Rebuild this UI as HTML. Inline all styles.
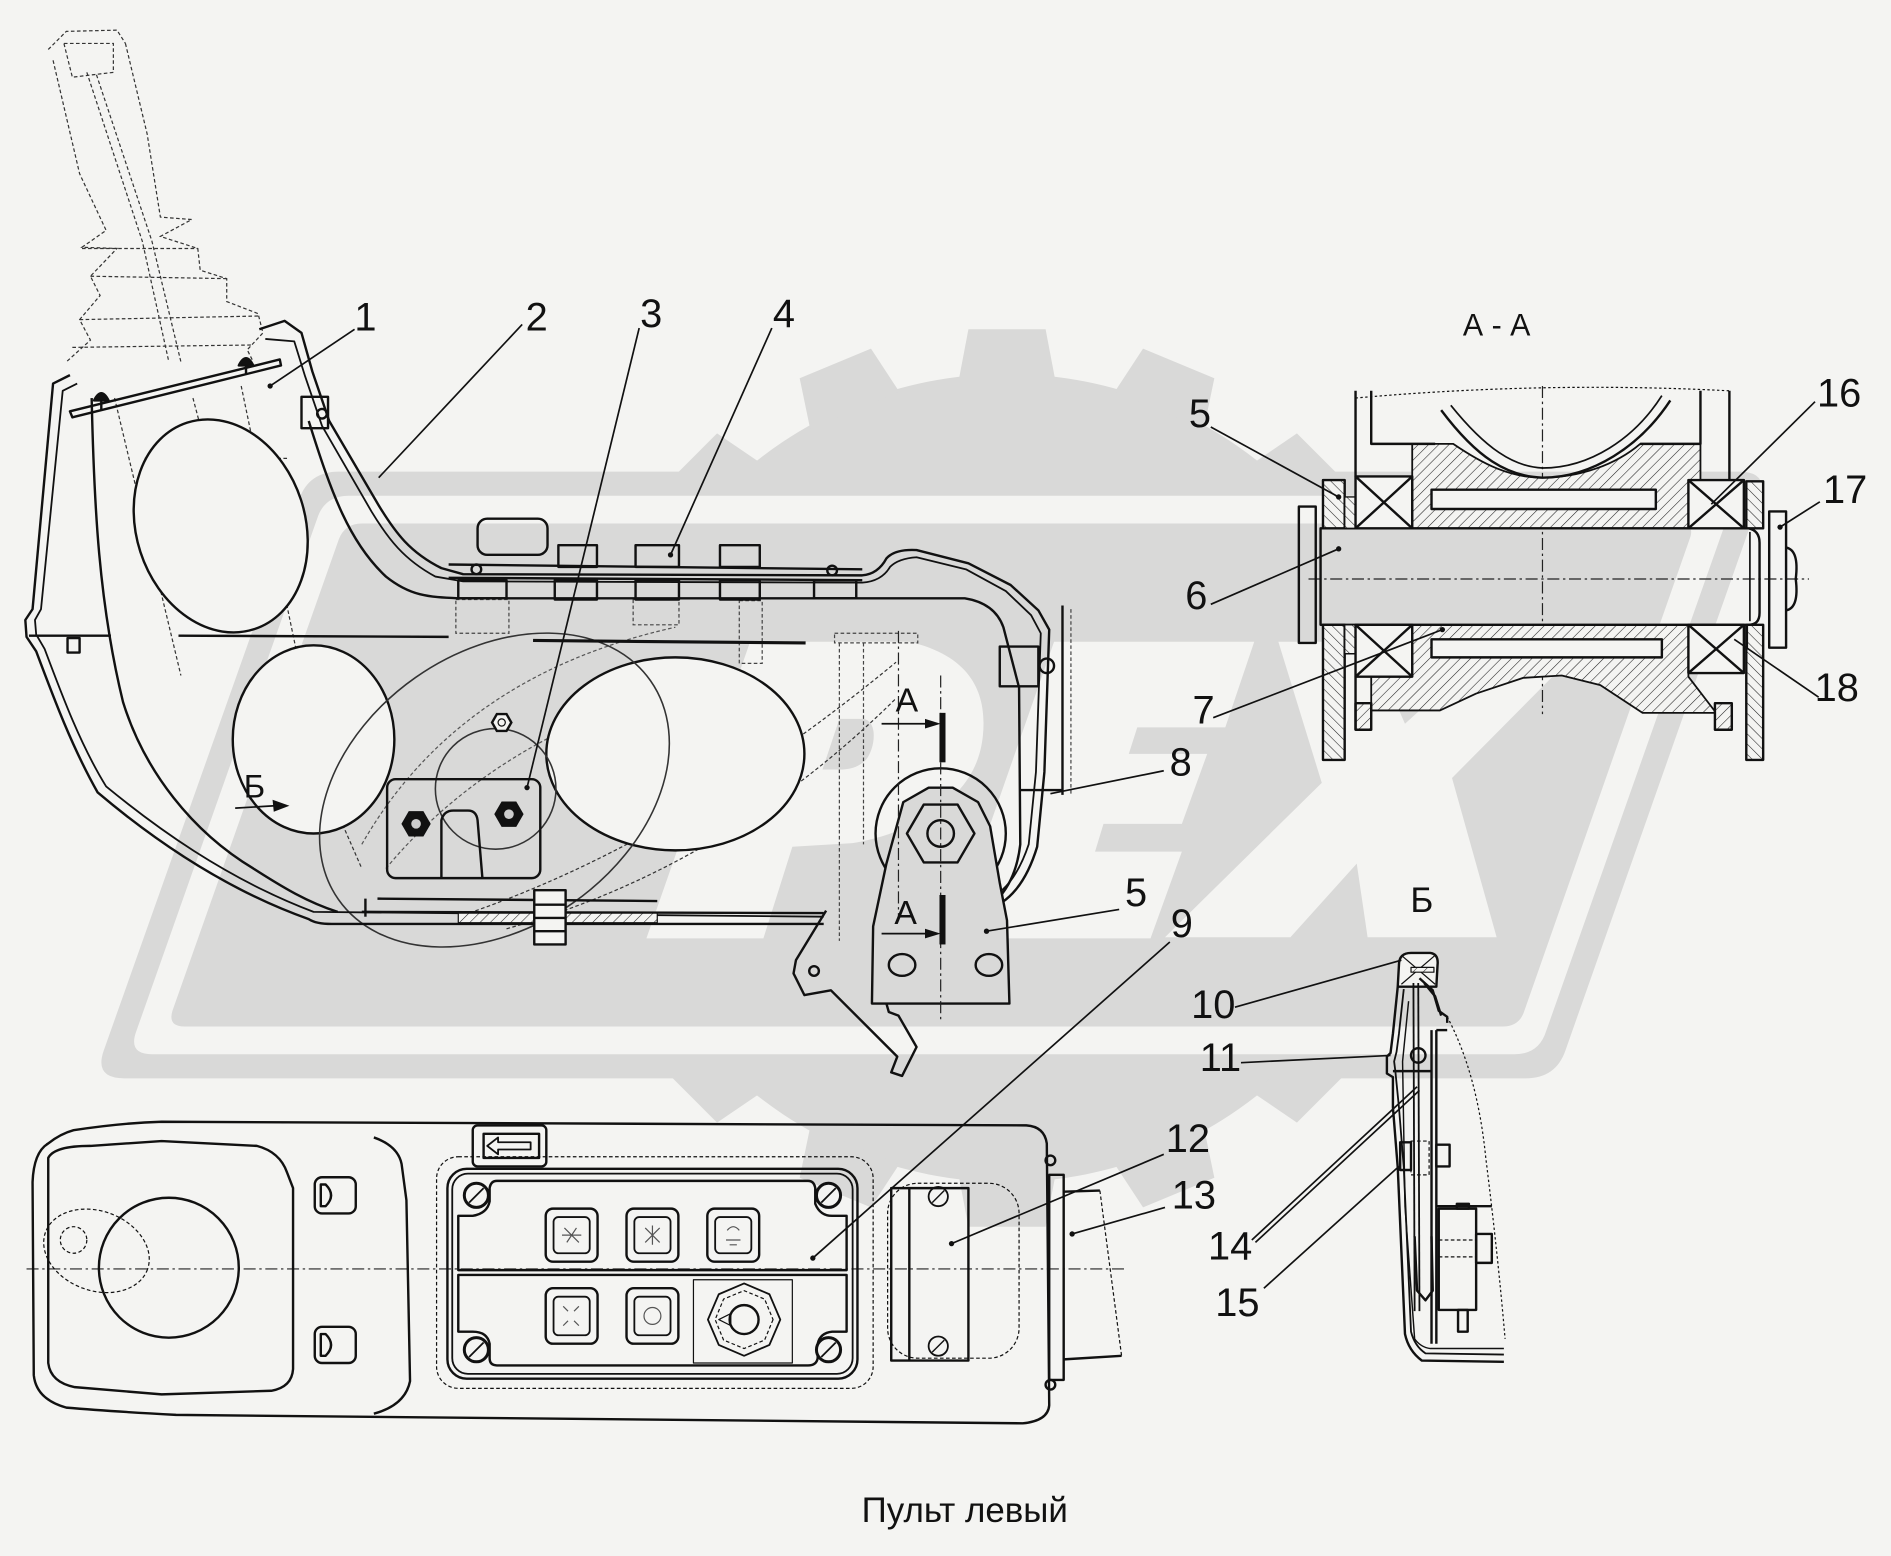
<!DOCTYPE html>
<html><head><meta charset="utf-8">
<style>
html,body{margin:0;padding:0;background:#f4f4f2;}
svg{display:block;}
text{font-family:"Liberation Sans",Arial,sans-serif;fill:#111;}
</style></head>
<body>
<svg width="1891" height="1556" viewBox="0 0 1568 1290" preserveAspectRatio="none" xmlns="http://www.w3.org/2000/svg">
<defs>
<pattern id="hat" width="6" height="6" patternUnits="userSpaceOnUse" patternTransform="rotate(45)">
<rect width="6" height="6" fill="#f4f4f2"/><line x1="0" y1="0" x2="0" y2="6" stroke="#222" stroke-width="0.9"/></pattern>
<pattern id="hat2" width="6" height="6" patternUnits="userSpaceOnUse" patternTransform="rotate(-45)">
<rect width="6" height="6" fill="#f4f4f2"/><line x1="0" y1="0" x2="0" y2="6" stroke="#222" stroke-width="0.9"/></pattern>
</defs>
<rect width="1568" height="1290" fill="#f4f4f2"/>

<!-- ===== WATERMARK ===== -->
<g fill="#d9d9d8">
<circle cx="835" cy="645" r="335"/>
<g transform="translate(835,645)">
<path d="M-40,-330 L-32,-372 L32,-372 L40,-330 Z"/>
<path d="M-40,-330 L-32,-372 L32,-372 L40,-330 Z" transform="rotate(22.5)"/>
<path d="M-40,-330 L-32,-372 L32,-372 L40,-330 Z" transform="rotate(45)"/>
<path d="M-40,-330 L-32,-372 L32,-372 L40,-330 Z" transform="rotate(67.5)"/>
<path d="M-40,-330 L-32,-372 L32,-372 L40,-330 Z" transform="rotate(90)"/>
<path d="M-40,-330 L-32,-372 L32,-372 L40,-330 Z" transform="rotate(112.5)"/>
<path d="M-40,-330 L-32,-372 L32,-372 L40,-330 Z" transform="rotate(135)"/>
<path d="M-40,-330 L-32,-372 L32,-372 L40,-330 Z" transform="rotate(157.5)"/>
<path d="M-40,-330 L-32,-372 L32,-372 L40,-330 Z" transform="rotate(180)"/>
<path d="M-40,-330 L-32,-372 L32,-372 L40,-330 Z" transform="rotate(202.5)"/>
<path d="M-40,-330 L-32,-372 L32,-372 L40,-330 Z" transform="rotate(225)"/>
<path d="M-40,-330 L-32,-372 L32,-372 L40,-330 Z" transform="rotate(247.5)"/>
<path d="M-40,-330 L-32,-372 L32,-372 L40,-330 Z" transform="rotate(270)"/>
<path d="M-40,-330 L-32,-372 L32,-372 L40,-330 Z" transform="rotate(292.5)"/>
<path d="M-40,-330 L-32,-372 L32,-372 L40,-330 Z" transform="rotate(315)"/>
<path d="M-40,-330 L-32,-372 L32,-372 L40,-330 Z" transform="rotate(337.5)"/>
</g>
<path d="M281,391 L1442,391 Q1467,391 1459,414 L1298,871 Q1290,894 1265,894 L103,894 Q78,894 86,871 L248,414 Q256,391 281,391 Z"/>
</g>
<path fill="#f4f4f2" d="M289,411 L1419,411 Q1439,411 1432,430 L1282,855 Q1276,874 1256,874 L126,874 Q106,874 113,855 L263,430 Q269,411 289,411 Z"/>
<path fill="#d9d9d8" d="M300,434 L1392,434 Q1406,434 1401,447 L1264,838 Q1260,851 1246,851 L153,851 Q139,851 143,838 L281,447 Q286,434 300,434 Z"/>
<!-- letters -->
<g fill="#f4f4f2">
<path d="M536,778 L633,778 L657,702 L707,699 C735,694 757,685 770,676 C795,660 812,640 815,610 C818,580 810,545 754,532 L622,532 Z"/>
<path d="M788,778 L874,532 L1040,532 L1016,603 L943,603 L936,625 L1001,625 L980,683 L915,683 L908,706 L980,706 L954,778 Z"/>
<path d="M1060,532 L1135,532 L1165,600 L1240,532 L1316,532 L1204,645 L1241,777 L1134,777 L1125,716 L1070,777 L966,777 L1096,649 Z"/>
</g>
<path fill="#d9d9d8" d="M696,596 L716,596 C728,598 726,620 718,630 C712,636 705,638 696,638 L682,638 Z"/>

<!-- ===== JOYSTICK (dashed phantom) ===== -->
<g fill="none" stroke="#333" stroke-width="1" stroke-dasharray="3,2">
<path d="M40,41 L55,26 L97,25 L104,36"/>
<path d="M53,36 L94,36 L94,60 L60,64 Z"/>
<path d="M44,50 L66,144 L88,191 L68,205 L97,206 L75,229 L83,245 L66,265 L75,282 L55,300"/>
<path d="M104,36 L122,111 L133,180 L159,182 L133,196 L164,206 L166,224 L188,231 L188,250 L214,260 L218,276 L205,290 L210,300"/>
<path d="M68,206 L164,206 M75,229 L188,231 M66,265 L214,262 M60,288 L210,286"/>
<path d="M72,60 L118,200 L140,300 M80,62 L126,200 L150,300"/>
<path d="M95,330 L150,560 M200,320 L250,560 M230,560 L300,720"/>
<path d="M380,760 Q560,700 743,549 M420,770 Q600,720 743,579"/>
<path d="M160,330 L210,520 M120,380 L240,380"/>
<path d="M300,700 Q380,560 560,520 M320,720 Q420,600 600,560" stroke="#555"/>
</g>
<!-- phantom details -->
<g fill="none" stroke="#444" stroke-width="1" stroke-dasharray="3,2">
<rect x="525" y="497" width="38" height="21"/>
<rect x="613" y="498" width="19" height="52"/>
<rect x="378" y="497" width="44" height="28"/>
<rect x="692" y="525" width="69" height="8"/>
<line x1="696" y1="533" x2="696" y2="780"/>
<line x1="716" y1="533" x2="716" y2="700"/>
<line x1="888" y1="505" x2="888" y2="660"/>
</g>

<!-- ===== WHITE CUTOUT ELLIPSES ===== -->
<g fill="#f4f4f2" stroke="#111" stroke-width="2">
<ellipse cx="183" cy="436" rx="70" ry="90" transform="rotate(-18 183 436)"/>
<ellipse cx="260" cy="613" rx="67" ry="78"/>
<ellipse cx="560" cy="625" rx="107" ry="80"/>
</g>
<g fill="none" stroke="#333" stroke-width="1.3">
<ellipse cx="410" cy="655" rx="158" ry="114" transform="rotate(-35 410 655)"/>
<circle cx="411" cy="654" r="50"/>
</g>

<!-- ===== MAIN CONSOLE SIDE VIEW ===== -->
<g fill="none" stroke="#111" stroke-width="2" stroke-linejoin="round">
<path d="M58,311 L44,318 L27,505 L21,514 L22,528 L30,540 C45,580 60,620 81,657 C120,690 180,735 256,762 Q262,766 275,766 L683,766"/>
<path d="M64,318 L52,324 L34,505 L29,514 L30,526 L37,538 C52,578 67,618 88,652 C127,684 186,728 260,756 L683,760" stroke-width="1.5"/>
<path d="M76,330 C78,420 82,500 102,582 C120,640 160,690 210,720 C235,736 255,748 280,756"/>
<path d="M215,273 L236,266 L250,276 L259,308 L273,349 L314,419 C328,442 340,458 366,471 L384,476 L715,477 Q728,476 735,463 Q742,455 760,456 L803,467 L838,485 L861,506 L870,522 L866,640 L860,702 Q850,735 831,748"/>
<path d="M220,281 L244,283 L253,312 L267,353 L308,424 C322,447 335,464 361,478 L384,482 L715,483 Q731,482 738,470 Q745,463 760,462 L801,472 L834,490 L855,510 L863,525 L859,640 L853,700 Q843,730 826,742" stroke-width="1.5"/>
<path d="M256,349 C275,410 290,450 320,478 C340,494 355,495 380,496 L800,496 Q825,500 832,520 L845,570 L846,700 Q842,735 820,752"/>
<path d="M58,341 L232,298 L233,303 L60,346 Z"/>
<path d="M78,332 Q84,320 90,332 Z M198,303 Q204,291 210,303 Z" fill="#111"/>
<line x1="84" y1="332" x2="84" y2="340"/><line x1="204" y1="302" x2="204" y2="310"/>
<rect x="250" y="329" width="22" height="26"/>
<circle cx="267" cy="343" r="4"/>
<line x1="24" y1="527" x2="92" y2="527"/>
<rect x="56" y="529" width="10" height="12"/>
<line x1="148" y1="527" x2="372" y2="528"/>
<line x1="442" y1="531" x2="668" y2="533" stroke-width="2.6"/>
<line x1="372" y1="468" x2="715" y2="472"/>
<line x1="372" y1="479" x2="715" y2="481"/>
<rect x="396" y="430" width="58" height="30" rx="8"/>
<rect x="463" y="452" width="32" height="18"/>
<rect x="527" y="452" width="36" height="18"/>
<rect x="597" y="452" width="33" height="18"/>
<rect x="380" y="481" width="40" height="15"/>
<rect x="460" y="481" width="35" height="16"/>
<rect x="527" y="481" width="36" height="16"/>
<rect x="597" y="481" width="33" height="16"/>
<rect x="675" y="481" width="35" height="15"/>
<circle cx="395" cy="472" r="4"/><circle cx="690" cy="473" r="4"/>
<line x1="313" y1="745" x2="545" y2="747"/>
<line x1="300" y1="756" x2="683" y2="757"/>
<rect x="380" y="757" width="165" height="8" fill="url(#hat)" stroke-width="1"/>
<line x1="303" y1="745" x2="303" y2="760"/>
<rect x="443" y="738" width="26" height="45" fill="#f4f4f2"/>
<line x1="443" y1="750" x2="469" y2="750"/><line x1="443" y1="761" x2="469" y2="761"/><line x1="443" y1="772" x2="469" y2="772"/>
<rect x="321" y="646" width="127" height="82" rx="7"/>
<path d="M366,728 L366,680 Q368,672 376,672 L388,672 Q395,672 396,680 L400,728"/>
</g>
<g stroke="#111" stroke-width="2">
<polygon points="356,683 350.5,692.5 339.5,692.5 334,683 339.5,673.5 350.5,673.5" fill="#111"/>
<polygon points="433,675 427.5,684.5 416.5,684.5 411,675 416.5,665.5 427.5,665.5" fill="#111"/>
<polygon points="424,599 420,606 412,606 408,599 412,592 420,592" fill="#f4f4f2"/>
</g>
<circle cx="345" cy="683" r="4" fill="#ccc"/><circle cx="422" cy="675" r="4" fill="#ccc"/><circle cx="416" cy="599" r="3" fill="none" stroke="#111"/>

<!-- hinge bracket -->
<g fill="none" stroke="#111" stroke-width="2" stroke-linejoin="round">
<circle cx="780" cy="691" r="54"/>
<path d="M749,665 L770,653 L790,653 L811,665 L821,685 L829,732 L835,763 L837,832 L723,832 L724,768 L735,716 Z" fill="#d9d9d8"/>
<polygon points="808,691 794,715 766,715 752,691 766,667 794,667"/>
<circle cx="780" cy="691" r="11"/>
<ellipse cx="748" cy="800" rx="11" ry="9"/>
<ellipse cx="820" cy="800" rx="11" ry="9"/>
<path d="M685,755 L660,796 L658,807 L667,825 L689,821 L744,876 L739,889 L748,892 L760,868 L745,842 L737,839 L735,832"/>
<circle cx="675" cy="805" r="4"/>
<rect x="829" y="536" width="32" height="33"/>
<circle cx="868" cy="552" r="6"/>
<line x1="881" y1="502" x2="881" y2="659"/>
<line x1="846" y1="655" x2="881" y2="655"/>
</g>
<g stroke="#222" stroke-width="1" stroke-dasharray="10,3,2,3" fill="none">
<line x1="780" y1="560" x2="780" y2="848"/>
<line x1="745" y1="523" x2="745" y2="760"/>
<line x1="1085" y1="480" x2="1500" y2="480"/>
<line x1="1279" y1="320" x2="1279" y2="592"/>
<line x1="22" y1="1052" x2="935" y2="1052"/>
</g>
<rect x="779" y="591" width="5" height="41" fill="#111"/>
<rect x="779" y="742" width="5" height="41" fill="#111"/>
<g stroke="#111" stroke-width="1.4"><line x1="731" y1="600" x2="772" y2="600"/><line x1="731" y1="774" x2="772" y2="774"/><line x1="195" y1="670" x2="228" y2="668"/></g>
<polygon points="780,600 767,596 767,604" fill="#111"/>
<polygon points="780,774 767,770 767,778" fill="#111"/>
<polygon points="240,668 226,663 227,673" fill="#111"/>

<!-- ===== A-A SECTION ===== -->
<g stroke="#111" stroke-width="2" fill="none" stroke-linejoin="round">
<path d="M1171,368 L1205,368 C1230,385 1252,396 1279,396 C1310,396 1340,385 1360,368 L1410,368 L1410,438 L1171,438 Z" fill="url(#hat)" stroke-width="1.5"/>
<rect x="1187" y="406" width="186" height="16" fill="#f4f4f2"/>
<path d="M1171,518 L1400,518 L1400,561 L1423,591 L1362,591 L1327,568 L1295,560 L1263,562 L1224,575 L1194,589 L1137,589 L1137,561 L1171,561 Z" fill="url(#hat)" stroke-width="1.5"/>
<rect x="1187" y="530" width="191" height="15" fill="#f4f4f2"/>
<rect x="1124" y="583" width="13" height="22" fill="url(#hat)"/>
<rect x="1422" y="583" width="14" height="22" fill="url(#hat)"/>
<line x1="1124" y1="561" x2="1124" y2="605"/>
<line x1="1124" y1="324" x2="1124" y2="395"/>
<path d="M1137,324 L1137,368 L1190,368"/>
<line x1="1434" y1="324" x2="1434" y2="398"/>
<path d="M1410,324 L1410,368 L1360,368"/>
<path d="M1195,340 C1225,380 1250,395 1279,396 C1320,396 1360,370 1385,332"/>
<path d="M1203,336 C1232,372 1255,387 1279,388 C1318,388 1355,364 1378,328" stroke-width="1.4"/>
<path d="M1124,330 Q1280,316 1434,324" stroke-width="1" stroke-dasharray="2,2"/>
<path d="M1095,438 L1450,438 Q1459,440 1459,450 L1459,508 Q1459,518 1450,518 L1095,518 Z"/>
<line x1="1451" y1="441" x2="1451" y2="515" stroke-width="1.4"/>
<rect x="1077" y="420" width="14" height="113"/>
<rect x="1097" y="398" width="18" height="40" fill="url(#hat2)"/>
<rect x="1097" y="518" width="18" height="112" fill="url(#hat2)"/>
<rect x="1115" y="412" width="9" height="26" fill="url(#hat2)" stroke-width="1.2"/>
<rect x="1115" y="518" width="9" height="24" fill="url(#hat2)" stroke-width="1.2"/>
<rect x="1124" y="395" width="47" height="43" fill="#f4f4f2"/>
<path d="M1124,395 L1171,438 M1171,395 L1124,438"/>
<rect x="1124" y="518" width="47" height="43" fill="#f4f4f2"/>
<path d="M1124,518 L1171,561 M1171,518 L1124,561"/>
<rect x="1400" y="398" width="46" height="40" fill="#f4f4f2"/>
<path d="M1400,398 L1446,438 M1446,398 L1400,438"/>
<rect x="1400" y="518" width="46" height="40" fill="#f4f4f2"/>
<path d="M1400,518 L1446,558 M1446,518 L1400,558"/>
<rect x="1448" y="399" width="14" height="39" fill="url(#hat2)"/>
<rect x="1448" y="518" width="14" height="112" fill="url(#hat2)"/>
<rect x="1446" y="518" width="3" height="20" stroke-width="1"/>
<rect x="1467" y="424" width="14" height="113"/>
<path d="M1481,454 Q1492,456 1489,480 Q1492,504 1481,506"/>
</g>

<!-- ===== SIDE SECTION Б ===== -->
<g stroke="#111" stroke-width="2" fill="none" stroke-linejoin="round">
<path d="M1160,800 Q1160,790 1170,790 L1186,790 Q1193,791 1192,800 L1191,818 L1159,818 Z" fill="#f4f4f2"/>
<path d="M1162,792 L1190,816 M1190,792 L1162,816" stroke-width="1"/>
<rect x="1170" y="802" width="19" height="4" fill="url(#hat)" stroke-width="1"/>
<path d="M1159,818 L1155,857 L1153,873 L1150,876 L1150,890 L1155,893 L1155,918 L1159,968 L1165,1106 Q1168,1120 1179,1128 L1247,1129"/>
<path d="M1164,820 L1160,857 L1158,872 L1156,880 L1157,888 L1160,918 L1164,968 L1170,1104 Q1173,1116 1182,1122 L1247,1123" stroke-width="1.5"/>
<path d="M1168,830 L1163,880 L1165,1000 L1173,1110 Q1178,1117 1186,1118 L1247,1118" stroke-width="1.2"/>
<path d="M1177,811 L1188,821 L1193,838 L1200,843 L1200,848"/>
<path d="M1181,815 L1190,826 L1195,842"/>
<line x1="1187" y1="854" x2="1187" y2="1114"/>
<line x1="1191" y1="854" x2="1191" y2="1114"/>
<line x1="1191" y1="854" x2="1200" y2="854"/>
<line x1="1172" y1="815" x2="1173" y2="1087" stroke-width="1.5"/>
<line x1="1176" y1="815" x2="1177" y2="1087" stroke-width="1.5"/>
<circle cx="1176" cy="875" r="6"/>
<line x1="1155" y1="888" x2="1187" y2="888"/>
<rect x="1161" y="947" width="9" height="23"/>
<rect x="1170" y="946" width="15" height="28" stroke-dasharray="3,2" stroke-width="1"/>
<rect x="1191" y="949" width="11" height="18"/>
<rect x="1193" y="1002" width="31" height="84"/>
<rect x="1208" y="998" width="10" height="4"/>
<rect x="1209" y="1086" width="8" height="18"/>
<rect x="1224" y="1023" width="13" height="24"/>
<line x1="1191" y1="1000" x2="1237" y2="1000"/>
<path d="M1173,1025 L1175,1070 L1182,1078 L1188,1070 L1187,1025"/>
<path d="M1193,1028 L1224,1028 M1193,1042 L1224,1042" stroke-dasharray="3,2" stroke-width="1"/>
<path d="M1200,843 Q1225,890 1232,960 Q1242,1040 1248,1110" stroke-width="1" stroke-dasharray="2,2"/>
</g>

<!-- ===== BOTTOM CONSOLE TOP VIEW ===== -->
<g stroke="#111" stroke-width="2" fill="none" stroke-linejoin="round">
<path d="M61,937 Q100,931 134,930 L851,933 Q866,934 868,948 L870,1165 Q869,1178 848,1180 L146,1173 Q90,1170 55,1167 Q30,1160 28,1140 L27,980 Q28,955 40,948 Q50,940 61,937 Z"/>
<path d="M40,960 Q45,950 75,950 L134,946 L213,950 Q232,955 238,972 L243,985 L243,1135 Q242,1150 225,1153 L134,1156 L62,1150 Q42,1146 40,1130 Z"/>
<path d="M310,943 Q330,950 333,965 L337,995 L340,1145 Q336,1165 310,1172"/>
<circle cx="140" cy="1051" r="58"/>
<ellipse cx="80" cy="1037" rx="45" ry="33" transform="rotate(20 80 1037)" stroke-width="1" stroke-dasharray="3,2"/>
<circle cx="61" cy="1028" r="11" stroke-width="1" stroke-dasharray="3,2"/>
<rect x="261" y="976" width="34" height="30" rx="6"/>
<path d="M266,982 L270,982 Q279,991 270,1000 L266,1000 Z"/>
<rect x="261" y="1100" width="34" height="30" rx="6"/>
<path d="M266,1106 L270,1106 Q279,1115 270,1124 L266,1124 Z"/>
<rect x="392" y="933" width="61" height="34" rx="4"/>
<rect x="401" y="940" width="46" height="20"/>
<path d="M404,950 L413,943 L413,947 L440,947 L440,953 L413,953 L413,957 Z" stroke-width="1.5"/>
<rect x="362" y="959" width="362" height="192" rx="18" stroke-width="1" stroke-dasharray="3,2"/>
<rect x="371" y="969" width="340" height="174" rx="16"/>
<rect x="375" y="973" width="332" height="166" rx="13" stroke-width="1.5"/>
<path d="M412,979 L670,979 Q675,979 676,985 L676,998 Q680,1008 690,1008 L702,1008 L702,1053 L380,1053 L380,1008 L392,1008 Q404,1006 406,996 L406,985 Q407,979 412,979 Z"/>
<path d="M380,1057 L702,1057 L702,1104 L690,1104 Q680,1105 678,1114 L678,1126 Q677,1132 670,1132 L412,1132 Q406,1132 406,1126 L406,1114 Q404,1104 392,1104 L380,1104 Z"/>
<rect x="452.5" y="1002" width="43" height="44" rx="6"/><rect x="459" y="1009" width="30" height="30" rx="4" stroke-width="1.5"/>
<rect x="519.5" y="1002" width="43" height="44" rx="6"/><rect x="526" y="1009" width="30" height="30" rx="4" stroke-width="1.5"/>
<rect x="586.5" y="1002" width="43" height="44" rx="6"/><rect x="593" y="1009" width="30" height="30" rx="4" stroke-width="1.5"/>
<rect x="452.5" y="1068" width="43" height="46" rx="6"/><rect x="459" y="1075" width="30" height="32" rx="4" stroke-width="1.5"/>
<rect x="519.5" y="1068" width="43" height="46" rx="6"/><rect x="526" y="1075" width="30" height="32" rx="4" stroke-width="1.5"/>
<rect x="575" y="1061" width="82" height="69" stroke-width="1"/>
<polygon points="647,1094 638,1115 617,1124 596,1115 587,1094 596,1073 617,1064 638,1073" stroke-width="1.5"/>
<polygon points="641,1094 634,1111 617,1118 600,1111 593,1094 600,1077 617,1070 634,1077" stroke-width="1" stroke-dasharray="3,2"/>
<circle cx="617" cy="1094" r="12"/>
<path d="M596,1094 L606,1089 L606,1099 Z" stroke-width="1"/>
<rect x="736" y="981" width="109" height="145" rx="25" stroke-width="1" stroke-dasharray="3,2"/>
<rect x="739" y="985" width="64" height="143"/>
<line x1="754" y1="985" x2="754" y2="1128"/>
<circle cx="778" cy="992" r="8" stroke-width="1.5"/><line x1="773" y1="997" x2="783" y2="987" stroke-width="1.2"/>
<circle cx="778" cy="1116" r="8" stroke-width="1.5"/><line x1="773" y1="1121" x2="783" y2="1111" stroke-width="1.2"/>
<rect x="870" y="974" width="12" height="170"/>
<path d="M882,988 L912,987 M882,1127 L930,1124"/>
<path d="M912,987 L930,1124" stroke-width="1" stroke-dasharray="3,2"/>
<circle cx="871" cy="962" r="4"/><circle cx="871" cy="1148" r="4"/>
</g>
<g stroke="#111" stroke-width="2.5" fill="#f4f4f2">
<circle cx="395" cy="991" r="10"/><circle cx="687" cy="991" r="10"/>
<circle cx="395" cy="1119" r="10"/><circle cx="687" cy="1119" r="10"/>
</g>
<g stroke="#111" stroke-width="1.5">
<line x1="389" y1="997" x2="401" y2="985"/><line x1="681" y1="997" x2="693" y2="985"/>
<line x1="389" y1="1125" x2="401" y2="1113"/><line x1="681" y1="1125" x2="693" y2="1113"/>
</g>
<g stroke="#555" stroke-width="1" fill="none">
<path d="M468,1018 L480,1030 M470,1030 L478,1018 M466,1024 L482,1024"/>
<path d="M535,1018 L547,1030 M541,1016 L541,1032 M535,1030 L547,1018"/>
<path d="M603,1020 Q608,1014 613,1020 M602,1028 L614,1028 M605,1032 L611,1032"/>
<path d="M467,1083 L471,1087 M480,1083 L476,1087 M467,1099 L471,1095 M480,1099 L476,1095"/>
<circle cx="541" cy="1091" r="7"/>
</g>

<!-- ===== LEADER LINES ===== -->
<g stroke="#111" stroke-width="1.4" fill="none">
<line x1="294" y1="273" x2="224" y2="320"/>
<line x1="433" y1="269" x2="314" y2="396"/>
<line x1="530" y1="272" x2="437" y2="653"/>
<line x1="640" y1="272" x2="556" y2="460"/>
<line x1="1004" y1="354" x2="1110" y2="412"/>
<line x1="1505" y1="333" x2="1419" y2="418"/>
<line x1="1509" y1="416" x2="1476" y2="437"/>
<line x1="1004" y1="501" x2="1110" y2="455"/>
<line x1="1508" y1="578" x2="1438" y2="530"/>
<line x1="1006" y1="595" x2="1196" y2="522"/>
<line x1="965" y1="639" x2="871" y2="658"/>
<line x1="928" y1="754" x2="818" y2="772"/>
<line x1="970" y1="781" x2="674" y2="1043"/>
<line x1="1024" y1="835" x2="1162" y2="796"/>
<line x1="1029" y1="881" x2="1153" y2="875"/>
<line x1="965" y1="957" x2="789" y2="1031"/>
<line x1="966" y1="1001" x2="889" y2="1023"/>
<line x1="1038" y1="1028" x2="1175" y2="901"/>
<line x1="1041" y1="1030" x2="1177" y2="904"/>
<line x1="1048" y1="1068" x2="1160" y2="967"/>
</g>
<g fill="#111">
<circle cx="224" cy="320" r="2.2"/><circle cx="437" cy="653" r="2.2"/><circle cx="556" cy="460" r="2.2"/>
<circle cx="1110" cy="412" r="2.2"/><circle cx="1476" cy="437" r="2.2"/><circle cx="1110" cy="455" r="2.2"/>
<circle cx="1196" cy="522" r="2.2"/><circle cx="818" cy="772" r="2.2"/><circle cx="674" cy="1043" r="2.2"/>
<circle cx="789" cy="1031" r="2.2"/><circle cx="889" cy="1023" r="2.2"/>
</g>

<!-- ===== TEXT ===== -->
<g font-size="33" text-anchor="middle">
<text x="303" y="274">1</text>
<text x="445" y="274">2</text>
<text x="540" y="271">3</text>
<text x="650" y="271">4</text>
<text x="995" y="354">5</text>
<text x="1525" y="337">16</text>
<text x="1530" y="417">17</text>
<text x="992" y="505">6</text>
<text x="1523" y="581">18</text>
<text x="998" y="600">7</text>
<text x="979" y="643">8</text>
<text x="942" y="751">5</text>
<text x="980" y="777">9</text>
<text x="1006" y="844">10</text>
<text x="1012" y="888">11</text>
<text x="985" y="955">12</text>
<text x="990" y="1002">13</text>
<text x="1020" y="1044">14</text>
<text x="1026" y="1091">15</text>
</g>
<g text-anchor="middle" style="fill:#222">
<text x="1241" y="278" font-size="26" textLength="56" lengthAdjust="spacingAndGlyphs">А - А</text>
<text x="1179" y="756" font-size="29">Б</text>
<text x="752" y="590" font-size="28">А</text>
<text x="751" y="766" font-size="28">А</text>
<text x="211" y="661" font-size="27">Б</text>
</g>
<text x="800" y="1262" font-size="29" text-anchor="middle" textLength="171" lengthAdjust="spacingAndGlyphs">Пульт левый</text>
</svg>
</body></html>
